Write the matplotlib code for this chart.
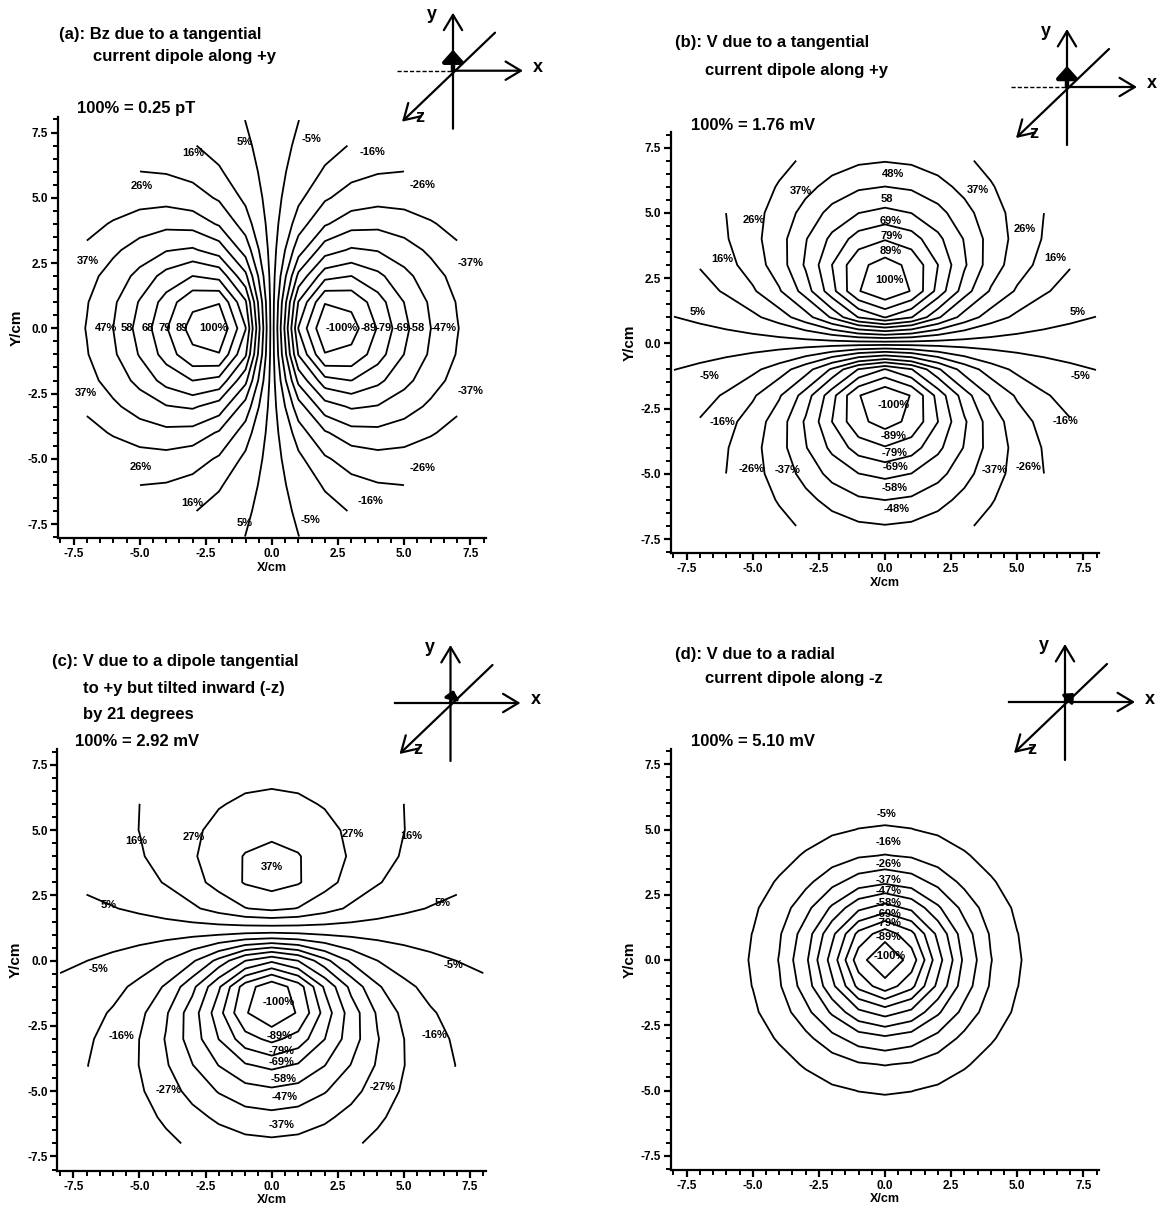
import numpy as np
import matplotlib
matplotlib.use("Agg")
import matplotlib.pyplot as plt
from matplotlib.ticker import MultipleLocator, FormatStrFormatter

plt.rcParams['font.family'] = ['Liberation Sans', 'DejaVu Sans']
plt.rcParams['axes.unicode_minus'] = False
plt.rcParams['contour.negative_linestyle'] = 'solid'

W, H, DPI = 1167, 1213, 100

# ---------------- data ----------------
grid_cm = np.arange(-8, 9, 1.0)          # measurement grid, 1 cm spacing
grid_radius_cm = 8.1                      # usable disk on the scalp map

# model parameters
dipole_depth_cm = [3.0, 3.0, 3.0, 2.7]
dipole_tilt_deg = [0.0, 0.0, 21.0, 90.0]
falloff_exponent = [1.4, 1.4, 1.4, 1.5]
peak_percent = [111.0, 111.0, 113.0, 111.0]
head_radius_cm = 8.1

levels_a = [-100, -89, -79, -69, -58, -47, -37, -26, -16, -5, 5, 16, 26, 37, 47, 58, 68, 79, 89, 100]
levels_b = [-100, -89, -79, -69, -58, -48, -37, -26, -16, -5, 5, 16, 26, 37, 48, 58, 69, 79, 89, 100]
levels_c = [-100, -89, -79, -69, -58, -47, -37, -27, -16, -5, 5, 16, 27, 37]
levels_d = [-100, -89, -79, -69, -58, -47, -37, -26, -16, -5]

label_text_a = ["5%", "16%", "26%", "37%", "47%", "58", "68", "79", "89", "100%", "37%", "26%", "16%", "5%",
                "-5%", "-16%", "-26%", "-37%", "-100%", "-89", "-79", "-69", "-58", "-47%", "-37%", "-26%", "-16%", "-5%"]
label_x_a = [-1.02, -2.98, -4.93, -6.98, -6.28, -5.49, -4.68, -4.05, -3.41, -2.22, -7.04, -4.95, -3.0, -1.02,
             1.50, 3.81, 5.70, 7.49, 2.63, 3.64, 4.23, 4.90, 5.47, 6.48, 7.49, 5.70, 3.71, 1.44]
label_y_a = [7.15, 6.70, 5.45, 2.59, 0.02, 0.02, 0.02, 0.02, 0.02, 0.02, -2.49, -5.30, -6.68, -7.47,
             7.24, 6.77, 5.49, 2.51, 0.02, 0.02, 0.02, 0.02, 0.02, 0.02, -2.40, -5.37, -6.62, -7.34]

label_text_b = ["48%", "58", "69%", "79%", "89%", "100%", "37%", "37%", "26%", "26%", "16%", "16%", "5%", "5%",
                "-5%", "-5%", "-16%", "-16%", "-26%", "-37%", "-37%", "-26%",
                "-100%", "-89%", "-79%", "-69%", "-58%", "-48%"]
label_x_b = [0.29, 0.06, 0.21, 0.25, 0.21, 0.16, -3.18, 3.50, -4.98, 5.29, -6.16, 6.43, -7.08, 7.27,
             -6.62, 7.40, -6.14, 6.81, -5.04, -3.68, 4.16, 5.42,
             0.31, 0.31, 0.38, 0.38, 0.38, 0.44]
label_y_b = [6.49, 5.53, 4.68, 4.13, 3.53, 2.44, 5.85, 5.88, 4.74, 4.39, 3.24, 3.27, 1.21, 1.21,
             -1.25, -1.25, -3.03, -2.99, -4.81, -4.84, -4.84, -4.73,
             -2.36, -3.54, -4.20, -4.73, -5.53, -6.36]

label_text_c = ["16%", "27%", "27%", "16%", "37%", "5%", "5%", "-5%", "-5%", "-16%", "-16%", "-27%", "-27%",
                "-100%", "-89%", "-79%", "-69%", "-58%", "-47%", "-37%"]
label_x_c = [-5.13, -2.93, 3.05, 5.27, 0.0, -6.18, 6.47, -6.55, 6.87, -5.67, 6.17, -3.88, 4.20,
             0.25, 0.31, 0.38, 0.38, 0.44, 0.50, 0.38]
label_y_c = [4.60, 4.75, 4.85, 4.79, 3.60, 2.13, 2.22, -0.33, -0.16, -2.89, -2.85, -4.95, -4.83,
             -1.60, -2.87, -3.45, -3.89, -4.53, -5.23, -6.30]

label_text_d = ["-5%", "-16%", "-26%", "-37%", "-47%", "-58%", "-69%", "-79%", "-89%", "-100%"]
label_x_d = [0.04, 0.13, 0.13, 0.13, 0.13, 0.13, 0.13, 0.13, 0.13, 0.19]
label_y_d = [5.60, 4.52, 3.66, 3.05, 2.63, 2.19, 1.76, 1.42, 0.87, 0.15]

titles = [["(a): Bz due to a tangential", "current dipole along +y"],
          ["(b): V due to a tangential", "current dipole along +y"],
          ["(c): V due to a dipole tangential", "to +y but tilted inward (-z)", "by 21 degrees"],
          ["(d): V due to a radial", "current dipole along -z"]]
scale_texts = ["100% = 0.25 pT", "100% = 1.76 mV", "100% = 2.92 mV", "100% = 5.10 mV"]

# ---------------- field models ----------------
def field(kind, X, Y, d, tilt, p):
    r2 = X**2 + Y**2
    if kind == 'Bz':
        return -X / (r2 + d**2) ** p
    if kind == 'V':
        t = np.radians(tilt)
        return (Y * np.cos(t) - d * np.sin(t)) / (r2 + d**2) ** p
    # radial dipole inside a sphere, observed on the sphere surface
    Zs = np.sqrt(np.clip(head_radius_cm**2 - r2, 0, None))
    rz = Zs - (head_radius_cm - d)
    return -rz / (r2 + rz**2) ** p

def percent_map(kind, d, tilt, p, peak):
    fine = np.arange(-8, 8.001, 0.05)
    FX, FY = np.meshgrid(fine, fine)
    ff = field(kind, FX, FY, d, tilt, p)
    ff = ff[np.hypot(FX, FY) <= grid_radius_cm]
    ref = np.abs(ff).max()
    X, Y = np.meshgrid(grid_cm, grid_cm)
    Z = field(kind, X, Y, d, tilt, p) / ref * peak
    Z = np.ma.masked_where(np.hypot(X, Y) > grid_radius_cm, Z)
    return X, Y, Z

# ---------------- layout ----------------
fig = plt.figure(figsize=(W / DPI, H / DPI), dpi=DPI)

XL, YL = (-8.1, 8.1), (-8.05, 8.1)
origins = [(272, 328.3), (885, 343.3), (271.7, 960.7), (885, 960)]
SX, SY = 26.45, 26.1

kinds = ['Bz', 'V', 'V', 'radial']
levels_all = [levels_a, levels_b, levels_c, levels_d]
labels_all = [(label_text_a, label_x_a, label_y_a), (label_text_b, label_x_b, label_y_b),
              (label_text_c, label_x_c, label_y_c), (label_text_d, label_x_d, label_y_d)]

title_pos = [[(59, 34), (93, 57)], [(675, 42), (705, 70)],
             [(52, 662), (83, 689), (83, 714)], [(675, 654), (705, 679)]]
scale_pos = [(77, 109), (691, 125), (75, 742), (691, 741)]

for i in range(4):
    ox, oy = origins[i]
    x0 = ox + XL[0] * SX
    x1 = ox + XL[1] * SX
    ytop = oy - YL[1] * SY
    ybot = oy - YL[0] * SY
    ax = fig.add_axes([x0 / W, 1 - ybot / H, (x1 - x0) / W, (ybot - ytop) / H])
    X, Y, Z = percent_map(kinds[i], dipole_depth_cm[i], dipole_tilt_deg[i],
                          falloff_exponent[i], peak_percent[i])
    ax.contour(X, Y, Z, levels=sorted(levels_all[i]), colors='black', linewidths=1.3,
               linestyles='solid')
    txts, lx, ly = labels_all[i]
    for t, x, y in zip(txts, lx, ly):
        ax.text(x, y, t, ha='center', va='center', fontsize=8, fontweight='bold')
    ax.set_xlim(*XL)
    ax.set_ylim(*YL)
    for s in ['top', 'right']:
        ax.spines[s].set_visible(False)
    for s in ['left', 'bottom']:
        ax.spines[s].set_linewidth(1.6)
    ax.xaxis.set_major_locator(MultipleLocator(2.5))
    ax.yaxis.set_major_locator(MultipleLocator(2.5))
    ax.xaxis.set_minor_locator(MultipleLocator(0.5))
    ax.yaxis.set_minor_locator(MultipleLocator(0.5))
    ax.xaxis.set_major_formatter(FormatStrFormatter('%.1f'))
    ax.yaxis.set_major_formatter(FormatStrFormatter('%.1f'))
    ax.tick_params(which='major', direction='out', length=5, width=1.6, labelsize=8.5, pad=2)
    ax.tick_params(which='minor', direction='out', length=3.5, width=1.4)
    for lab in ax.get_xticklabels() + ax.get_yticklabels():
        lab.set_fontweight('bold')
    ax.set_xlabel('X/cm', fontsize=9, fontweight='bold', labelpad=1)
    ax.set_ylabel('Y/cm', fontsize=11, fontweight='bold', labelpad=3)
    ax.patch.set_alpha(0)

    for line, (tx, ty) in zip(titles[i], title_pos[i]):
        fig.text(tx / W, 1 - ty / H, line, ha='left', va='center', fontsize=12, fontweight='bold')
    sx_, sy_ = scale_pos[i]
    fig.text(sx_ / W, 1 - sy_ / H, scale_texts[i], ha='left', va='center', fontsize=12, fontweight='bold')

# ---------------- coordinate icons ----------------
ov = fig.add_axes([0, 0, 1, 1])
ov.set_xlim(0, W)
ov.set_ylim(H, 0)
ov.axis('off')
ov.patch.set_alpha(0)

icon_origins = [(453, 70.7), (1067, 87), (450.5, 703), (1065, 702)]
arrow_style = dict(arrowstyle='->,head_length=0.5,head_width=0.3', lw=1.6, color='black',
                   mutation_scale=22, shrinkA=0, shrinkB=0)

def draw_icon(ox, oy, panel):
    ov.annotate('', xy=(ox, oy - 58), xytext=(ox, oy + 58), arrowprops=arrow_style)
    ov.annotate('', xy=(ox + 70, oy), xytext=(ox, oy), arrowprops=arrow_style)
    if panel in (0, 1):
        ov.plot([ox - 56, ox], [oy, oy], color='black', lw=1.0, ls=(0, (3, 1.5)))
    else:
        ov.plot([ox - 56, ox], [oy, oy], color='black', lw=1.6)
    ov.annotate('', xy=(ox - 51, oy + 51), xytext=(ox + 42, oy - 38), arrowprops=arrow_style)
    ov.text(ox + 85, oy - 3, 'x', fontsize=13, fontweight='bold', ha='center', va='center')
    ov.text(ox - 21, oy - 56, 'y', fontsize=13, fontweight='bold', ha='center', va='center')
    ov.text(ox - 33, oy + 47, 'z', fontsize=13, fontweight='bold', ha='center', va='center')
    # dipole symbol
    if panel in (0, 1):
        tip, ms, lw = (ox, oy - 21), 14, 3.2
    elif panel == 2:
        tip, ms, lw = (ox + 3, oy - 13), 9, 2.4
    else:
        tip, ms, lw = (ox + 9, oy - 9), 9, 2.4
    ov.annotate('', xy=tip, xytext=(ox, oy),
                arrowprops=dict(arrowstyle='-|>,head_length=0.5,head_width=0.45', lw=lw,
                                color='black', mutation_scale=ms, shrinkA=0, shrinkB=0))

for k, (ox, oy) in enumerate(icon_origins):
    draw_icon(ox, oy, k)

fig.savefig('out.png', dpi=DPI)
